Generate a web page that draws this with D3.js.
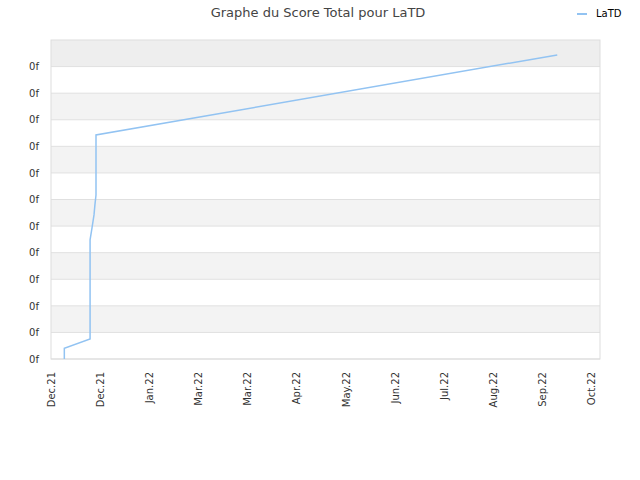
<!DOCTYPE html>
<html>
<head>
<meta charset="utf-8">
<script src="https://cdn.jsdelivr.net/npm/d3@7"></script>
<style>
  body { margin: 0; background: #fff; font-family: "DejaVu Sans", sans-serif; }
  svg { display: block; }
</style>
</head>
<body>
<div id="chart"></div>
<script>
// Data
const dates = ["2021-12-08T12:00", "2021-12-08T12:00", "2021-12-23T00:00", "2021-12-23T00:00",
  "2021-12-24T02:00", "2021-12-25T05:00", "2021-12-25T17:00", "2021-12-26T08:00",
  "2021-12-26T08:00", "2022-09-12T00:00"];
const scores = [0, 0.4, 0.75, 4.48, 4.93, 5.42, 5.79, 6.17, 8.43, 11.44];
const yTicks = [0, 1, 2, 3, 4, 5, 6, 7, 8, 9, 10, 11];
const yTickLabels = ["0f", "0f", "0f", "0f", "0f", "0f", "0f", "0f", "0f", "0f", "0f", "0f"];
const xTickLabels = ["Dec.21", "Dec.21", "Jan.22", "Mar.22", "Mar.22", "Apr.22",
  "May.22", "Jun.22", "Jul.22", "Aug.22", "Sep.22", "Oct.22"];
const seriesName = "LaTD";

const parse = d3.timeParse("%Y-%m-%dT%H:%M");
const data = dates.map((d, i) => ({ date: parse(d), score: scores[i] }));

// Basic set up
const margin = { top: 40, right: 40, bottom: 121, left: 51 };
const width = 640 - margin.left - margin.right;
const height = 480 - margin.top - margin.bottom;

const svg = d3.select("#chart").append("svg")
  .attr("width", 640)
  .attr("height", 480);

const g = svg.append("g")
  .attr("transform", "translate(" + margin.left + "," + margin.top + ")");

// Scales: ticks run from first to last label, plot extends a bit further right
const tStart = new Date(2021, 11, 1);
const tEnd = new Date(2022, 9, 1);
const x = d3.scaleTime().domain([tStart, tEnd]).range([0, 540]);
const tickDates = xTickLabels.map((l, i) =>
  new Date(+tStart + (tEnd - tStart) * i / (xTickLabels.length - 1)));

const y = d3.scaleLinear().domain([0, 12]).range([height, 0]);

// Alternating bands
const bands = d3.range(0, 12);
g.selectAll(".band")
  .data(bands)
  .enter().append("rect")
  .attr("x", 0)
  .attr("width", width)
  .attr("y", (d) => y(d + 1))
  .attr("height", (d) => y(d) - y(d + 1))
  .attr("fill", (d) => d === 11 ? "#eeeeee" : (d % 2 === 1 ? "#f3f3f3" : "#ffffff"));

// Grid lines
g.selectAll(".grid")
  .data(yTicks)
  .enter().append("line")
  .attr("x1", 0)
  .attr("x2", width)
  .attr("y1", (d) => y(d))
  .attr("y2", (d) => y(d))
  .attr("stroke", "#e0e0e0")
  .attr("stroke-width", 1);

// Plot border
g.append("rect")
  .attr("width", width)
  .attr("height", height)
  .attr("fill", "none")
  .attr("stroke", "#dddddd");

// Y axis
const yAxis = g.append("g")
  .call(d3.axisLeft(y).tickValues(yTicks).tickSize(0).tickPadding(12)
    .tickFormat((d, i) => yTickLabels[i]));
yAxis.select(".domain").remove();
yAxis.selectAll("text")
  .attr("fill", "#333")
  .style("font-size", "10px")
  .style("font-family", "DejaVu Sans, sans-serif");

// X axis
const xAxis = g.append("g")
  .attr("transform", "translate(0," + height + ")")
  .call(d3.axisBottom(x).tickValues(tickDates).tickSize(0)
    .tickFormat((d, i) => xTickLabels[i]));
xAxis.select(".domain").remove();
xAxis.selectAll("text")
  .attr("fill", "#333")
  .style("font-size", "10px")
  .style("font-family", "DejaVu Sans, sans-serif")
  .attr("transform", "rotate(-90)")
  .attr("x", -13)
  .attr("y", 0)
  .attr("dy", "0.35em")
  .style("text-anchor", "end");

// Line
const line = d3.line()
  .x((d) => x(d.date))
  .y((d) => y(d.score));

g.append("path")
  .datum(data)
  .attr("fill", "none")
  .attr("stroke", "#92c3f2")
  .attr("stroke-width", 1.5)
  .attr("d", line);

// Title
svg.append("text")
  .attr("x", 318)
  .attr("y", 17)
  .attr("text-anchor", "middle")
  .attr("fill", "#444")
  .style("font-size", "13px")
  .style("font-family", "DejaVu Sans, sans-serif")
  .text("Graphe du Score Total pour " + seriesName);

// Legend
const legend = svg.append("g").attr("class", "legend");
legend.append("line")
  .attr("x1", 577).attr("x2", 587)
  .attr("y1", 14).attr("y2", 14)
  .attr("stroke", "#92c3f2")
  .attr("stroke-width", 2);
legend.append("text")
  .attr("x", 596)
  .attr("y", 17)
  .attr("fill", "#000")
  .style("font-size", "10px")
  .style("font-family", "DejaVu Sans, sans-serif")
  .text(seriesName);
</script>
</body>
</html>
